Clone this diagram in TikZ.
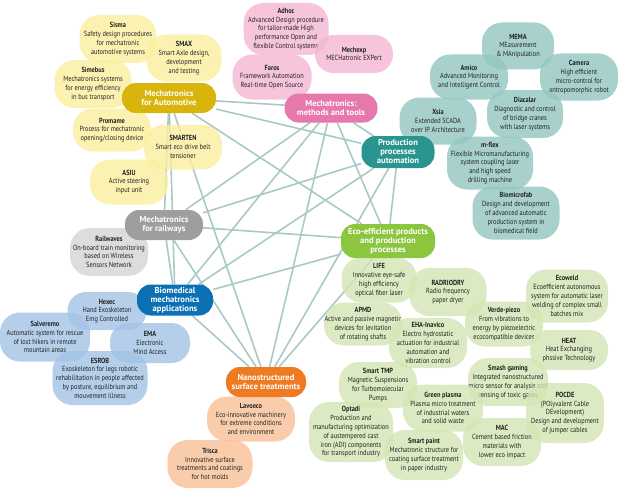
\documentclass[tikz,border=0pt]{standalone}
\usepackage{fontspec}
\newfontfamily\leaffont{PT Sans}[FakeStretch=0.86]
\newfontfamily\hubfont{PT Sans}
\definecolor{autohub}{HTML}{D8B40C}
\definecolor{autoleaf}{HTML}{FAEF9E}
\definecolor{methhub}{HTML}{E678AC}
\definecolor{methleaf}{HTML}{F4B6D3}
\definecolor{prodhub}{HTML}{2A958F}
\definecolor{prodleaf}{HTML}{92C6C2}
\definecolor{ecohub}{HTML}{8CC63F}
\definecolor{ecoleaf}{HTML}{D3E5B4}
\definecolor{nanohub}{HTML}{EE7B22}
\definecolor{nanoleaf}{HTML}{F8C197}
\definecolor{biohub}{HTML}{0C70B5}
\definecolor{bioleaf}{HTML}{A2C3E6}
\definecolor{railhub}{HTML}{9E9E9E}
\definecolor{railleaf}{HTML}{D4D4D4}
\definecolor{linkcolor}{HTML}{A9C9C6}
\definecolor{leaftext}{HTML}{222222}
\pgfdeclarelayer{background}
\pgfsetlayers{background,main}
\tikzset{
  hub/.style={rounded corners=14pt, inner sep=0pt, align=center, text=white,
    font=\hubfont\bfseries\fontsize{8.6}{9}\selectfont},
  leaf/.style={rounded corners=20pt, inner sep=0pt, align=center, text=leaftext,
    fill opacity=0.8, text opacity=1, minimum width=78pt, minimum height=46pt,
    font=\leaffont\fontsize{7.4}{8.8}\selectfont},
  thinleaf/.style={leaf, rounded corners=18.5pt},
  link/.style={draw=linkcolor, line width=1.6pt},
}
\begin{document}
\begin{tikzpicture}[x=1pt,y=-1pt]
  \useasboundingbox (0,0) rectangle (621,495);
  % automotive
  \node [leaf, fill=autoleaf, minimum width=77pt, minimum height=48pt] (sisma) at (118,39) {\textbf{Sisma}\\Safety design procedures\\for mechatronic\\automotive systems};
  \node [leaf, fill=autoleaf, minimum width=75pt, minimum height=47pt] (smax) at (184,58) {\textbf{SMAX}\\Smart Axle design,\\development\\and testing};
  \node [leaf, fill=autoleaf, minimum width=77pt, minimum height=48pt] (simebus) at (93,84) {\textbf{Simebus}\\Mechatronics systems\\for energy efficiency\\in bus transport};
  \node [leaf, fill=autoleaf, minimum height=43pt] (promame) at (112,130) {\textbf{Promame}\\Process for mechatronic\\opening/closing device};
  \node [leaf, fill=autoleaf, minimum height=45pt] (smarten) at (183,147) {\textbf{SMARTEN}\\Smart eco drive belt\\tensioner};
  \node [leaf, fill=autoleaf, minimum height=45pt] (asiu) at (129,182) {\textbf{ASIU}\\Active steering\\input unit};
  % methods and tools
  \node [leaf, fill=methleaf, minimum width=85pt, minimum height=52pt] (adhoc) at (286,29) {\textbf{Adhoc}\\Advanced Design procedure\\for tailor-made High\\performance Open and\\flexible Control systems};
  \node [thinleaf, fill=methleaf, minimum height=38pt] (mechexp) at (354,54) {\textbf{Mechexp}\\MECHatronic EXPert};
  \node [leaf, fill=methleaf, minimum width=79pt, minimum height=45pt] (faros) at (272,77) {\textbf{Faros}\\Framework Automation\\Real-time Open Source};
  % production processes
  \node [leaf, fill=prodleaf, minimum width=72pt, minimum height=47pt] (mema) at (518,46) {\textbf{MEMA}\\MEasurement\\\& MAnipulation};
  \node [leaf, fill=prodleaf, minimum height=45pt] (amico) at (469,77) {\textbf{Amico}\\Advanced Monitoring\\and Intelligent Control};
  \node [leaf, fill=prodleaf, minimum height=47pt] (camera) at (579,77) {\textbf{Camera}\\High efficient\\micro-control for\\antropomorphic robot};
  \node [leaf, fill=prodleaf, minimum width=76pt, minimum height=48pt] (diacalar) at (525,114) {\textbf{Diacalar}\\Diagnostic and control\\of bridge cranes\\with laser systems};
  \node [leaf, fill=prodleaf, minimum width=77pt, minimum height=47pt] (xsia) at (438,121) {\textbf{Xsia}\\Extended SCADA\\over IP Architecture};
  \node [leaf, fill=prodleaf, minimum width=86pt, minimum height=53pt] (mflex) at (490,163) {\textbf{m-flex}\\Flexible Micromanufacturing\\system coupling laser\\and high speed\\drilling machine};
  \node [leaf, fill=prodleaf, minimum width=87pt, minimum height=53pt] (biomicrofab) at (516,213) {\textbf{Biomicrofab}\\Design and development\\of advanced automatic\\production system in\\biomedical field};
  % railways
  \node [leaf, fill=railleaf, minimum height=48pt] (railwaves) at (109,252) {\textbf{Railwaves}\\On-board train monitoring\\based on Wireless\\Sensors Network};
  % biomedical
  \node [thinleaf, fill=bioleaf, minimum width=79pt, minimum height=38pt] (hexec) at (107,311) {\textbf{Hexec}\\Hand Exoskeleton\\Emg Controlled};
  \node [leaf, fill=bioleaf, minimum width=90pt, minimum height=49pt] (salveremo) at (45,337) {\textbf{Salveremo}\\Automatic system for rescue\\of lost hikers in remote\\mountain areas};
  \node [thinleaf, fill=bioleaf, minimum width=80pt, minimum height=40pt] (ema) at (150,343) {\textbf{EMA}\\Electronic\\Mind Access};
  \node [leaf, fill=bioleaf, minimum width=95pt, minimum height=54pt] (esrob) at (100,378) {\textbf{ESROB}\\Exoskeleton for legs robotic\\rehabilitation in people affected\\by posture, equilibrium and\\mouvement illness};
  % nanostructured
  \node [leaf, fill=nanoleaf, minimum width=88pt, minimum height=45pt] (lavoeco) at (251,419) {\textbf{Lavoeco}\\Eco-innovative machinery\\for extreme conditions\\and environment};
  \node [leaf, fill=nanoleaf, minimum width=85pt, minimum height=48pt] (trisca) at (210,464) {\textbf{Trisca}\\Innovative surface\\treatments and coatings\\for hot molds};
  % eco-efficient
  \node [leaf, fill=ecoleaf, minimum width=75pt, minimum height=45pt] (life) at (379,280) {\textbf{LIFE}\\Innovative eye-safe\\high efficiency\\optical fiber laser};
  \node [leaf, fill=ecoleaf, minimum width=77pt, minimum height=48pt] (radriodry) at (448,292) {\textbf{RADRIODRY}\\Radio frequency\\paper dryer};
  \node [leaf, fill=ecoleaf, minimum width=78pt, minimum height=43pt] (apmd) at (363,324) {\textbf{APMD}\\Active and passive magnetic\\devices for levitation\\of rotating shafts};
  \node [leaf, fill=ecoleaf, minimum height=50pt] (eha) at (428,343) {\textbf{EHA-Inavico}\\Electro hydrostatic\\actuation for industrial\\automation and\\vibration control};
  \node [leaf, fill=ecoleaf, minimum height=45pt] (verde) at (504,324) {\textbf{Verde-piezo}\\From vibrations to\\energy by piezoelectric\\ecocompatible devices};
  \node [leaf, fill=ecoleaf, minimum width=82pt, minimum height=53pt] (ecoweld) at (567,296) {\textbf{Ecoweld}\\Ecoefficient autonomous\\system for automatic laser\\welding of complex small\\batches mix};
  \node [thinleaf, fill=ecoleaf, minimum height=40pt] (heat) at (569,350) {\textbf{HEAT}\\Heat Exchanging\\phssive Technology};
  \node [leaf, fill=ecoleaf, minimum height=46pt] (smarttmp) at (378,385) {\textbf{Smart TMP}\\Magnetic Suspensions\\for Turbomolecular\\Pumps};
  \node [leaf, fill=ecoleaf, minimum width=80pt, minimum height=48pt] (smash) at (508,382) {\textbf{Smash gaming}\\Integrated nanostructured\\micro sensor for analysis and\\sensing of toxic gases};
  \node [leaf, fill=ecoleaf, minimum width=80pt, minimum height=47pt] (plasma) at (443,408) {\textbf{Green plasma}\\Plasma micro treatment\\of industrial waters\\and solid waste};
  \node [leaf, fill=ecoleaf, minimum width=84pt, minimum height=60pt] (optadi) at (351,432) {\textbf{Optadi}\\Production and\\manufacturing optimization\\of austempered cast\\iron (ADI) components\\for transport industry};
  \node [leaf, fill=ecoleaf, minimum width=78pt, minimum height=50pt] (smartpaint) at (424,455) {\textbf{Smart paint}\\Mechatronic structure for\\coating surface treatment\\in paper industry};
  \node [leaf, fill=ecoleaf, minimum height=48pt] (mac) at (502,442) {\textbf{MAC}\\Cement based friction\\materials with\\lower eco impact};
  \node [leaf, fill=ecoleaf, minimum width=78pt, minimum height=60pt] (pocde) at (565,413) {\textbf{POCDE}\\(POlyvalent Cable\\DEvelopment)\\Design and development\\of jumper cables};
  % hubs
  \node [hub, fill=autohub, minimum width=94pt, minimum height=30pt] (auto) at (169,98) {Mechatronics\\for Automotive};
  \node [hub, fill=methhub, minimum width=93pt, minimum height=29pt] (meth) at (331,108) {Mechatronics:\\methods and tools};
  \node [hub, fill=prodhub, minimum width=73pt, minimum height=32pt] (prod) at (398,152) {Production\\processes\\automation};
  \node [hub, fill=ecohub, minimum width=94pt, minimum height=34pt] (eco) at (388,241) {Eco-efficient products\\and production\\processes};
  \node [hub, fill=nanohub, minimum width=80pt, minimum height=30pt] (nano) at (266,382) {Nanostructured\\surface treatments};
  \node [hub, fill=biohub, minimum width=76pt, minimum height=31pt] (bio) at (175,300) {Biomedical\\mechatronics\\applications};
  \node [hub, fill=railhub, minimum width=78pt, minimum height=30pt] (rail) at (164,225) {Mechatronics\\for railways};
  % links between the hubs
  \begin{pgfonlayer}{background}
    \foreach \a/\b in {auto/meth, auto/prod, auto/eco, auto/nano, auto/bio, auto/rail,
      meth/prod, meth/eco, meth/nano, meth/bio, meth/rail, prod/eco, prod/nano, prod/bio,
      prod/rail, eco/nano, eco/bio, eco/rail, nano/bio, nano/rail, bio/rail}
      \draw [link] (\a) -- (\b);
  \end{pgfonlayer}
\end{tikzpicture}
\end{document}
